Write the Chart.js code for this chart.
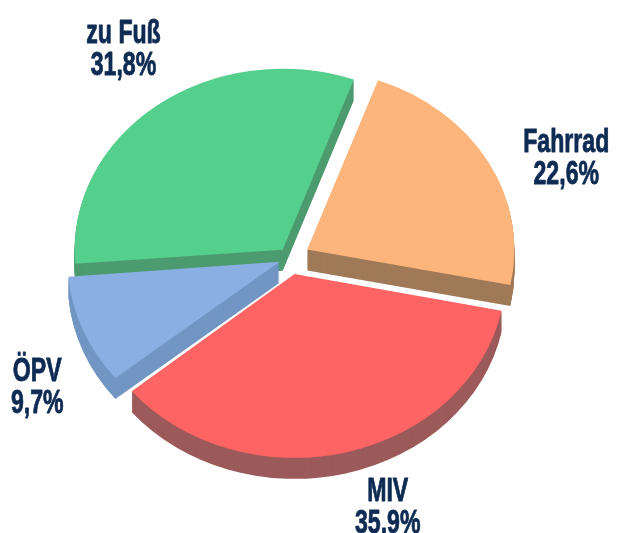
<!DOCTYPE html>
<html lang="de">
<head>
<meta charset="utf-8">
<title>Modal Split</title>
<script src="https://cdn.jsdelivr.net/npm/chart.js@4.4.1/dist/chart.umd.min.js"></script>
<style>
    html, body { margin: 0; padding: 0; background: #fff; }
    #wrap { width: 617px; height: 533px; }
</style>
</head>
<body>
<div id="wrap"><canvas id="chartModalSplit" width="617" height="533"></canvas></div>
<script>
// Verkehrsmittelwahl (Anteile in %), Reihenfolge im Uhrzeigersinn ab Startwinkel.
const labels = ['Fahrrad', 'MIV', 'ÖPV', 'zu Fuß'];
const shares = [22.6, 35.9, 9.7, 31.8];

const TOP = ['#fdb57c', '#fe6464', '#89afe3', '#55cf8c'];
const SIDE = ['#a07a58', '#9c5a5a', '#7296c4', '#4d9b70'];
const OFFSETS = [79, 76, 45, 48];
// Lage der Beschriftung: Winkel (Grad, ab 12 Uhr) und Abstand relativ zum Radius.
const LABEL_POS = [{ deg: 67, r: 1.45 }, { deg: 161, r: 1.45 }, { deg: 240, r: 1.41 }, { deg: 325.5, r: 1.42 }];

const TILT = 0.87;   // Stauchung der Ellipse
const DEPTH = 21;    // Dicke der "Torte" in px
const TEXT = '#0e2b53';

const fmt = (v) => v.toFixed(1).replace('.', ',') + '%';

function squash(ctx, cx, cy) {
    ctx.translate(cx, cy);
    ctx.scale(1, TILT);
    ctx.translate(-cx, -cy);
}

// Pseudo-3D: Seitenflächen als gestapelte, nach unten versetzte Kopien der Segmente.
const pie3d = {
    id: 'pie3d',
    beforeDatasetsDraw(chart) {
        const ctx = chart.ctx;
        const arcs = chart.getDatasetMeta(0).data;
        const { x, y } = arcs[0];
        for (let d = DEPTH; d >= 1; d--) {
            ctx.save();
            ctx.translate(0, d);
            squash(ctx, x, y);
            arcs.forEach((arc, i) => {
                const o = arc.options;
                arc.options = Object.assign({}, o, { backgroundColor: SIDE[i], borderWidth: 0 });
                arc.draw(ctx);
                arc.options = o;
            });
            ctx.restore();
        }
        ctx.save();
        squash(ctx, x, y);
    },
    afterDatasetsDraw(chart) {
        const ctx = chart.ctx;
        ctx.restore();
        const arcs = chart.getDatasetMeta(0).data;
        const { x, y, outerRadius } = arcs[0];
        ctx.save();
        ctx.fillStyle = TEXT;
        ctx.strokeStyle = TEXT;
        ctx.lineWidth = 0.9;
        ctx.lineJoin = 'round';
        ctx.textAlign = 'center';
        ctx.textBaseline = 'alphabetic';
        ctx.font = 'bold 34px "Liberation Sans", Arial, sans-serif';
        labels.forEach((lab, i) => {
            const p = LABEL_POS[i];
            const a = p.deg * Math.PI / 180;
            const lx = x + Math.sin(a) * p.r * outerRadius;
            const ly = y - Math.cos(a) * p.r * outerRadius * TILT;
            ctx.save();
            ctx.translate(lx, ly);
            ctx.scale(0.68, 1);
            [[lab, -4], [fmt(shares[i]), 28]].forEach(([s, dy]) => {
                ctx.fillText(s, 0, dy);
                ctx.strokeText(s, 0, dy);
            });
            ctx.restore();
        });
        ctx.restore();
    },
};

new Chart(document.getElementById('chartModalSplit'), {
    type: 'pie',
    data: {
        labels,
        datasets: [{
            data: shares,
            backgroundColor: TOP,
            borderWidth: 0,
            offset: OFFSETS,
            clip: false,
        }],
    },
    options: {
        responsive: false,
        animation: false,
        devicePixelRatio: 1,
        rotation: 20,
        radius: 207,
        layout: { padding: { left: 0, right: 37, top: 0, bottom: 17 } },
        plugins: { legend: { display: false }, tooltip: { enabled: false } },
        events: [],
    },
    plugins: [pie3d],
});
</script>
</body>
</html>
